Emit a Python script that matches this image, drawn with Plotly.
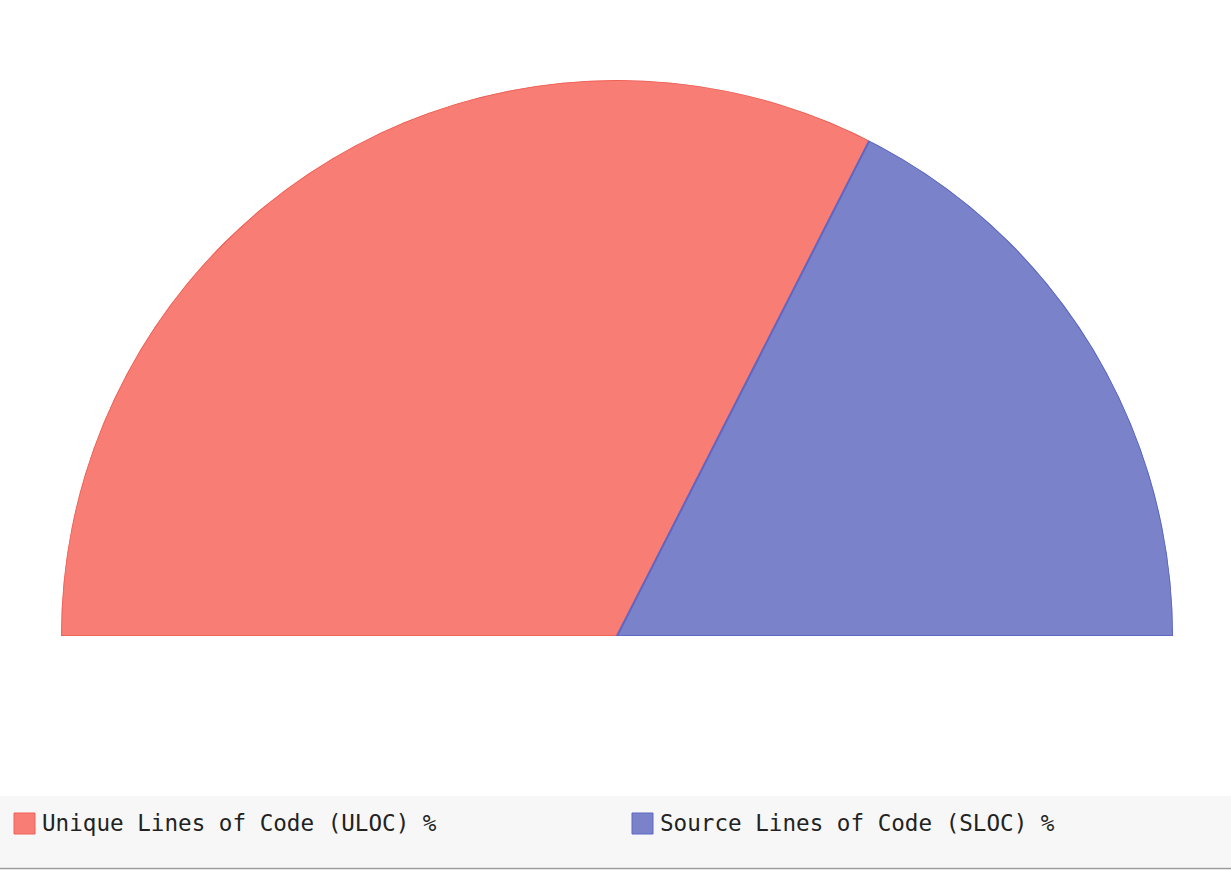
import plotly.graph_objects as go

# Share of lines of code, as a half-donut (semicircle) chart
labels = ["Unique Lines of Code (ULOC) %", "Source Lines of Code (SLOC) %"]
values = [65, 35]
fill_colors = ["#F87D74", "#7A83CA"]
line_colors = ["#EE6258", "#5C67C6"]

W, H = 1231, 870
# plot area holding the half disk (pixels)
L, R_, T, B = 60, 57, 80, 234
plot_w = W - L - R_
plot_h = H - T - B


def px(x):
    return (x - L) / plot_w


def py(y):
    return (H - B - y) / plot_h


# Convert shares to angular spans on the upper half circle, starting at the left
total = sum(values)
thetas, widths = [], []
start = 180.0
for v in values:
    span = 180.0 * v / total
    thetas.append(start - span / 2)
    widths.append(span)
    start -= span

fig = go.Figure()
fig.add_trace(go.Barpolar(
    r=[1] * len(values),
    theta=thetas,
    width=widths,
    marker=dict(color=fill_colors, line=dict(color=line_colors, width=2)),
    text=[f"{l}: {v}" for l, v in zip(labels, values)],
    hoverinfo="text",
    showlegend=False,
))

shapes = [
    # legend band
    dict(type="rect", xref="paper", yref="paper",
         x0=px(0), x1=px(W), y0=py(867), y1=py(796),
         fillcolor="#F7F7F7", line=dict(width=0), layer="below"),
    dict(type="line", xref="paper", yref="paper",
         x0=px(0), x1=px(W), y0=py(868.5), y1=py(868.5),
         line=dict(color="#9A9A9A", width=1.5)),
]
annotations = []
legend_x = [14, 632]
for i, lab in enumerate(labels):
    x0 = legend_x[i]
    shapes.append(dict(type="rect", xref="paper", yref="paper",
                       x0=px(x0), x1=px(x0 + 21), y0=py(834), y1=py(813),
                       fillcolor=fill_colors[i],
                       line=dict(color=line_colors[i], width=1)))
    annotations.append(dict(xref="paper", yref="paper",
                            x=px(x0 + 26), y=py(823),
                            xanchor="left", yanchor="middle",
                            text=lab, showarrow=False,
                            font=dict(family="DejaVu Sans Mono", size=22.6,
                                      color="#222222")))

fig.update_layout(
    width=W, height=H,
    margin=dict(l=L, r=R_, t=T, b=B),
    paper_bgcolor="white",
    polar=dict(
        domain=dict(x=[0, 1], y=[0, 1]),
        sector=[0, 180],
        hole=0,
        bgcolor="rgba(0,0,0,0)",
        radialaxis=dict(visible=False, range=[0, 1]),
        angularaxis=dict(visible=False, direction="counterclockwise",
                         rotation=0, thetaunit="degrees"),
    ),
    bargap=0,
    shapes=shapes,
    annotations=annotations,
    showlegend=False,
)

fig.write_html("out.html")
